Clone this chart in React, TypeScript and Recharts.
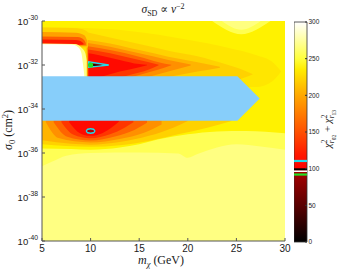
import React from "react";
import {
  Area,
  Bar,
  BarChart,
  ComposedChart,
  ReferenceDot,
  ReferenceLine,
  XAxis,
  YAxis,
} from "recharts";

// each contour row: [m_chi (GeV), log10 sigma lower edge, log10 sigma upper edge]
type Row = [number, number, number];

const massTicks = [5, 10, 15, 20, 25, 30];
const sigmaTicks = [-40, -38, -36, -34, -32, -30];
const chi2Ticks = [0, 50, 100, 150, 200, 250, 300];

// chi^2 colour scale used for the bar on the right
const chi2Colors: [number, string][] = [
  [0, "#000000"],
  [50, "#5a0000"],
  [96, "#a80000"],
  [100, "#ff0000"],
  [120, "#ff1a00"],
  [150, "#ff5000"],
  [200, "#ffa800"],
  [235, "#ffec00"],
  [250, "#ffff3c"],
  [270, "#ffff8c"],
  [300, "#ffffff"],
];

// contour levels drawn on the colour bar and in the plane
const contourLevels = [110.5, 99, 96.5, 92];
const contourColors = ["#20dceb", "#000000", "#ffffff", "#22e022"];

// background levels spanning the whole mass range
const plateau: Row[] = [[5, -40, -30], [30, -40, -30]];
const level252: Row[] = [
  [5, -36.6, -30], [6, -36.4, -30], [7.5, -36.12, -30], [10, -36.0, -30],
  [15, -35.98, -30], [19, -36.02, -30], [20, -36.22, -30], [21, -36.05, -30],
  [23, -35.75, -30], [25, -35.6, -30], [27.5, -35.7, -30], [30, -35.85, -30],
];
const level230: Row[] = [
  [5, -35.8, -30], [8, -35.82, -30], [10, -35.85, -30], [13, -35.75, -30],
  [15, -35.6, -30], [17, -35.38, -30], [20, -35.15, -30], [23, -35.02, -30],
  [26, -35.0, -30], [30, -35.1, -30],
];
const level220: Row[] = [
  [5, -33, -30.28], [9.5, -33, -30.32], [14, -33, -30.45], [20, -33, -30.85],
  [24, -33, -31.2], [27, -33, -31.55], [28.8, -32.7, -31.9], [29.6, -32.3, -32.3],
];
const peakOuter: Row[] = [[22.5, -30, -30], [25.5, -30.6, -30], [28.5, -30, -30]];
const peakInner: Row[] = [[23.5, -30, -30], [25.5, -30.4, -30], [27.5, -30, -30]];

// upper minimum near 10 GeV, 1e-32 cm^2
const upper205: Row[] = [
  [9.5, -33, -30.5], [12, -33, -30.75], [15, -33, -31.05], [18, -33, -31.35],
  [21, -33, -31.6], [24, -32.8, -31.98], [26, -32.55, -32.28], [26.7, -32.42, -32.42],
];
const upper190: Row[] = [
  [9.6, -33, -30.85], [12, -33, -31.02], [15, -32.85, -31.32], [18, -32.55, -31.62],
  [21, -32.3, -31.87], [23.3, -32.12, -32.08],
];
const upper175: Row[] = [
  [9.7, -33, -31.0], [12, -32.95, -31.17], [15, -32.65, -31.47], [18, -32.3, -31.77],
  [20.3, -32.02, -31.98],
];
const upper155: Row[] = [
  [9.7, -33, -31.15], [12, -32.8, -31.32], [15, -32.45, -31.62], [17, -32.2, -31.87],
  [18.3, -32.01, -31.99],
];
const upper135: Row[] = [
  [9.75, -32.9, -31.3], [12, -32.7, -31.47], [14, -32.45, -31.67], [16, -32.2, -31.87],
  [17.0, -32.01, -31.99],
];
const upper115: Row[] = [
  [9.8, -32.7, -31.47], [11, -32.55, -31.57], [13, -32.3, -31.77], [15, -32.1, -31.96],
  [15.8, -32.01, -31.99],
];

// thin valley above the saturated region at low mass
const strip205: Row[] = [[5, -31.2, -30.3], [8, -31.2, -30.32], [9.2, -31.2, -30.38], [9.7, -31.2, -30.5]];
const strip180: Row[] = [[5, -31.15, -30.5], [8.5, -31.15, -30.53], [9.35, -31.15, -30.65], [9.65, -31.15, -30.9]];
const strip150: Row[] = [[5, -31.1, -30.7], [8.7, -31.1, -30.73], [9.3, -31.1, -30.85], [9.5, -31.1, -31.0]];
const strip115: Row[] = [[5, -31.08, -30.84], [8.5, -31.08, -30.86], [9.1, -31.08, -30.95], [9.3, -31.06, -31.04]];

// saturated region (chi^2 > 300)
const ridgeEdge: Row[] = [
  [5, -32.6, -31.02], [8.4, -32.6, -31.04], [9.05, -32.6, -31.2], [9.45, -32.6, -31.45],
  [9.6, -32.6, -31.8],
];
const ridge: Row[] = [
  [5, -32.6, -31.06], [8.0, -32.6, -31.07], [8.7, -32.6, -31.18], [9.05, -32.6, -31.45],
  [9.2, -32.6, -31.9], [9.35, -32.6, -32.45],
];

// lower minimum near 10 GeV, 1e-35 cm^2
const lower205: Row[] = [
  [5, -35.6, -34.3], [7.5, -35.68, -34.3], [10, -35.72, -34.3], [13, -35.65, -34.3],
  [16, -35.45, -34.3], [19, -35.15, -34.3], [22, -34.85, -34.3], [24.5, -34.55, -34.5],
];
const lower190: Row[] = [
  [5, -35.42, -34.3], [8, -35.58, -34.3], [10, -35.62, -34.3], [13, -35.5, -34.3],
  [16, -35.22, -34.3], [18.5, -34.85, -34.3], [20, -34.55, -34.45],
];
const lower175: Row[] = [
  [5.4, -34.6, -34.4], [6.7, -35.32, -34.3], [10, -35.52, -34.3], [13, -35.36, -34.3],
  [15.5, -35.08, -34.3], [17.3, -34.7, -34.4],
];
const lower155: Row[] = [
  [6.2, -34.6, -34.4], [7.6, -35.26, -34.3], [10, -35.43, -34.3], [12.5, -35.25, -34.3],
  [14.5, -34.95, -34.3], [15.8, -34.62, -34.42],
];
const lower135: Row[] = [
  [7.0, -34.6, -34.4], [8.2, -35.16, -34.3], [10, -35.33, -34.3], [12, -35.15, -34.3],
  [13.5, -34.85, -34.3], [14.4, -34.6, -34.45],
];
const lower115: Row[] = [
  [7.8, -34.6, -34.4], [8.9, -35.1, -34.3], [10, -35.22, -34.3], [11.2, -35.1, -34.3],
  [12.3, -34.8, -34.4], [12.9, -34.58, -34.5],
];

// contours around the two minima
const upperCyan: Row[] = [[9.79, -31.98, -31.98], [9.8, -32.1, -31.86], [11.85, -32.0, -32.0]];
const upperBlack: Row[] = [[10.1, -32.04, -31.96], [11.2, -32.0, -32.0]];
const lowerCyan: Row[] = [
  [9.55, -35.0, -35.0], [9.7, -35.08, -34.92], [10, -35.1, -34.9], [10.3, -35.08, -34.92],
  [10.45, -35.0, -35.0],
];
const bestFit = { m: 10, s: -32 };

// excluded band
const excluded: Row[] = [[5, -34.53, -32.51], [25.1, -34.53, -32.51], [27.4, -33.52, -33.52]];

const filled = [
  { rows: plateau, fill: "#ffff82" },
  { rows: level252, fill: "#ffff55" },
  { rows: level230, fill: "#fff200" },
  { rows: level220, fill: "#ffe600" },
  { rows: peakOuter, fill: "#ffff50" },
  { rows: peakInner, fill: "#ffff80" },
  { rows: upper205, fill: "#ffd200" },
  { rows: upper190, fill: "#ffb400" },
  { rows: upper175, fill: "#ff9000" },
  { rows: upper155, fill: "#ff6400" },
  { rows: upper135, fill: "#ff3600" },
  { rows: upper115, fill: "#ff0a00" },
  { rows: strip205, fill: "#ffd200" },
  { rows: strip180, fill: "#ffa000" },
  { rows: strip150, fill: "#ff5c00" },
  { rows: strip115, fill: "#ff1800" },
  { rows: ridgeEdge, fill: "#ffff88" },
  { rows: ridge, fill: "#ffffff" },
  { rows: lower205, fill: "#ffd200" },
  { rows: lower190, fill: "#ffb400" },
  { rows: lower175, fill: "#ff9000" },
  { rows: lower155, fill: "#ff6400" },
  { rows: lower135, fill: "#ff3600" },
  { rows: lower115, fill: "#ff0a00" },
];

const toPoints = (rows: Row[]) => rows.map(([m, lo, hi]) => ({ m, r: [lo, hi] }));

const sans = "'Liberation Sans', Arial, sans-serif";
const serif = "'Liberation Serif', 'DejaVu Serif', serif";
const axisGrey = "#555";

const PowerTick = (props: any) => {
  const { x, y, payload } = props;
  return (
    <text x={x} y={y + 3.5} textAnchor="end" fontFamily={sans} fontSize={9.5} fill="#1a1a1a">
      10
      <tspan dy={-4.2} fontSize={6.8}>
        {payload.value}
      </tspan>
    </text>
  );
};

const blank = () => "";

export default function App() {
  return (
    <div style={{ position: "absolute", left: 0, top: 0, width: 340, height: 270, background: "#fff" }}>
      <div style={{ position: "absolute", left: 0, top: 0 }}>
        <ComposedChart width={340} height={270} margin={{ top: 21, right: 55, bottom: 9, left: 0 }}>
          {filled.map((f, i) => (
            <Area
              key={i}
              data={toPoints(f.rows)}
              dataKey="r"
              type="monotone"
              fill={f.fill}
              fillOpacity={1}
              stroke="none"
              dot={false}
              activeDot={false}
              isAnimationActive={false}
            />
          ))}
          <Area
            data={toPoints(lowerCyan)}
            dataKey="r"
            type="monotone"
            fill="#b00000"
            fillOpacity={1}
            stroke={contourColors[0]}
            strokeWidth={1.4}
            dot={false}
            activeDot={false}
            isAnimationActive={false}
          />
          <Area
            data={toPoints(excluded)}
            dataKey="r"
            type="linear"
            fill="#87cefa"
            fillOpacity={1}
            stroke="none"
            dot={false}
            activeDot={false}
            isAnimationActive={false}
          />
          <Area
            data={toPoints(upperCyan)}
            dataKey="r"
            type="linear"
            fill="#d00000"
            fillOpacity={1}
            stroke={contourColors[0]}
            strokeWidth={1.4}
            dot={false}
            activeDot={false}
            isAnimationActive={false}
          />
          <Area
            data={toPoints(upperBlack)}
            dataKey="r"
            type="linear"
            fill="#000"
            fillOpacity={1}
            stroke="none"
            dot={false}
            activeDot={false}
            isAnimationActive={false}
          />
          <ReferenceDot x={bestFit.m} y={bestFit.s} r={2.6} fill={contourColors[3]} stroke="none" />
          <XAxis
            type="number"
            dataKey="m"
            domain={[5, 30]}
            ticks={massTicks}
            interval={0}
            allowDataOverflow
            height={20}
            tickSize={-3}
            tickMargin={7}
            tick={{ fontSize: 10, fill: "#1a1a1a", fontFamily: sans }}
            axisLine={{ stroke: axisGrey }}
            tickLine={{ stroke: axisGrey }}
          />
          <XAxis
            xAxisId="top"
            orientation="top"
            type="number"
            dataKey="m"
            domain={[5, 30]}
            ticks={massTicks}
            interval={0}
            height={0}
            tickSize={-3}
            tickFormatter={blank}
            axisLine={{ stroke: axisGrey }}
            tickLine={{ stroke: axisGrey }}
          />
          <YAxis
            type="number"
            domain={[-40, -30]}
            ticks={sigmaTicks}
            interval={0}
            allowDataOverflow
            width={42}
            tickSize={-3}
            tickMargin={7}
            tick={PowerTick}
            axisLine={{ stroke: axisGrey }}
            tickLine={{ stroke: axisGrey }}
          />
          <YAxis
            yAxisId="right"
            orientation="right"
            type="number"
            domain={[-40, -30]}
            ticks={sigmaTicks}
            interval={0}
            width={0}
            tickSize={-3}
            tickFormatter={blank}
            axisLine={{ stroke: axisGrey }}
            tickLine={{ stroke: axisGrey }}
          />
        </ComposedChart>
      </div>

      <div style={{ position: "absolute", left: 294, top: 0 }}>
        <BarChart
          width={46}
          height={270}
          data={[{ k: "chi2", v: 300 }]}
          margin={{ top: 22, right: 0, bottom: 28, left: 0 }}
          barCategoryGap={0}
        >
          <defs>
            <linearGradient id="chi2Scale" x1="0" y1="1" x2="0" y2="0">
              {chi2Colors.map(([v, c]) => (
                <stop key={v} offset={v / 300} stopColor={c} />
              ))}
            </linearGradient>
          </defs>
          <XAxis dataKey="k" hide />
          <YAxis
            orientation="right"
            type="number"
            domain={[0, 300]}
            ticks={chi2Ticks}
            interval={0}
            width={33}
            tickSize={-2}
            tickMargin={3.5}
            tick={{ fontSize: 6.5, fill: "#1a1a1a", fontFamily: sans }}
            axisLine={false}
            tickLine={{ stroke: "#333" }}
          />
          <Bar dataKey="v" fill="url(#chi2Scale)" stroke="#333" strokeWidth={0.8} isAnimationActive={false} />
          {contourLevels.map((v, i) => (
            <ReferenceLine key={v} y={v} stroke={contourColors[i]} strokeWidth={i === 2 ? 1.5 : 2.2} />
          ))}
        </BarChart>
      </div>

      <svg width={340} height={270} style={{ position: "absolute", left: 0, top: 0, pointerEvents: "none" }}>
        <text x={163} y={13} textAnchor="middle" fontFamily={serif} fontSize={11.5} fill="#1a1a1a">
          <tspan fontStyle="italic">σ</tspan>
          <tspan fontSize={8} dy={2.5}>SD</tspan>
          <tspan dy={-2.5}> ∝ </tspan>
          <tspan fontStyle="italic">v</tspan>
          <tspan fontSize={8} dy={-4.5}>−2</tspan>
        </text>
        <text x={161} y={264} textAnchor="middle" fontFamily={serif} fontSize={12} fill="#1a1a1a">
          <tspan fontStyle="italic">m</tspan>
          <tspan fontSize={8.5} dy={2.5} fontStyle="italic">χ</tspan>
          <tspan dy={-2.5}> (GeV)</tspan>
        </text>
        <text transform="translate(12,130) rotate(-90)" textAnchor="middle" fontFamily={serif} fontSize={12} fill="#1a1a1a">
          <tspan fontStyle="italic">σ</tspan>
          <tspan fontSize={8.5} dy={2.5}>0</tspan>
          <tspan dy={-2.5}> (cm</tspan>
          <tspan fontSize={8.5} dy={-4.5}>2</tspan>
          <tspan dy={4.5}>)</tspan>
        </text>
        <text transform="translate(331,129) rotate(-90)" textAnchor="middle" fontFamily={serif} fontSize={11} fill="#1a1a1a">
          <tspan fontStyle="italic">χ</tspan>
          <tspan fontSize={7.5} dy={-4.5}>2</tspan>
          <tspan fontSize={7.5} dx={-3.8} dy={7.5} fontStyle="italic">r</tspan>
          <tspan fontSize={5.5} dy={1.5}>02</tspan>
          <tspan dy={-4.5}> + </tspan>
          <tspan fontStyle="italic">χ</tspan>
          <tspan fontSize={7.5} dy={-4.5}>2</tspan>
          <tspan fontSize={7.5} dx={-3.8} dy={7.5} fontStyle="italic">r</tspan>
          <tspan fontSize={5.5} dy={1.5}>13</tspan>
        </text>
      </svg>
    </div>
  );
}
